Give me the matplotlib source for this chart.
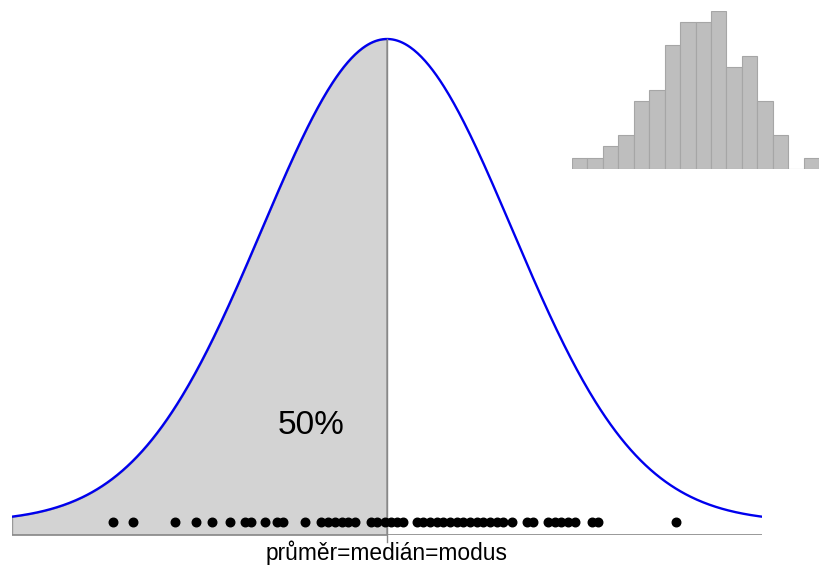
import numpy as np
import matplotlib
matplotlib.use("Agg")
import matplotlib.pyplot as plt

plt.rcParams['font.family'] = ['Liberation Sans', 'DejaVu Sans']

samples = [-2.19, -2.03, -1.70, -1.53, -1.40, -1.26, -1.14, -1.09, -0.98, -0.88,
           -0.83, -0.66, -0.53, -0.47, -0.42, -0.36, -0.31, -0.26, -0.13, -0.08,
           -0.02, 0.03, 0.08, 0.13, 0.24, 0.29, 0.34, 0.40, 0.45, 0.50,
           0.56, 0.61, 0.66, 0.72, 0.77, 0.82, 0.88, 0.93, 1.00, 1.12,
           1.17, 1.29, 1.34, 1.39, 1.45, 1.50, 1.64, 1.69, 2.31]

# Inset histogram counts
hist_counts = [1, 1, 2, 3, 6, 7, 11, 13, 13, 14, 9, 10, 6, 3, 0, 1]

label_center = "průměr=medián=modus"
label_share = "50%"

# Normal density curve
x = np.linspace(-3, 3, 600)
y = np.exp(-x**2 / 2) / np.sqrt(2 * np.pi)
ybot = -0.0107

fig = plt.figure(figsize=(8.21, 5.73), dpi=100)
ax = fig.add_axes([0.01462, 0.06632, 0.91352, 0.889])
ax.set_xlim(-3, 3)
ax.set_ylim(ybot, 0.41)
ax.axis('off')

# Shaded left half
left = x <= 0
ax.fill_between(x[left], y[left], ybot, facecolor='#d3d3d3', edgecolor='#999999', linewidth=1)
ax.plot([-3, 3], [ybot, ybot], color='#888888', linewidth=1.2)

# Curve and centre line
ax.plot(x, y, color='#0000ee', linewidth=1.7)
ax.plot([0, 0], [y.max(), -0.0165], color='#888888', linewidth=1, clip_on=False)

# Data points
ax.scatter(samples, np.zeros(len(samples)), s=38, color='black', zorder=3)

ax.text(-0.61, 0.080, label_share, fontsize=24, ha='center', va='center')
ax.text(0, -0.0315, label_center, fontsize=16.4, ha='center', va='baseline')

# Inset histogram
axh = fig.add_axes([0.6967, 0.7051, 0.3009, 0.2757])
axh.bar(range(len(hist_counts)), hist_counts, width=1, align='edge',
        color='#bebebe', edgecolor='#a6a6a6', linewidth=0.8)
axh.set_xlim(0, len(hist_counts))
axh.set_ylim(0, 14)
axh.axis('off')

plt.savefig("out.png", dpi=100)
